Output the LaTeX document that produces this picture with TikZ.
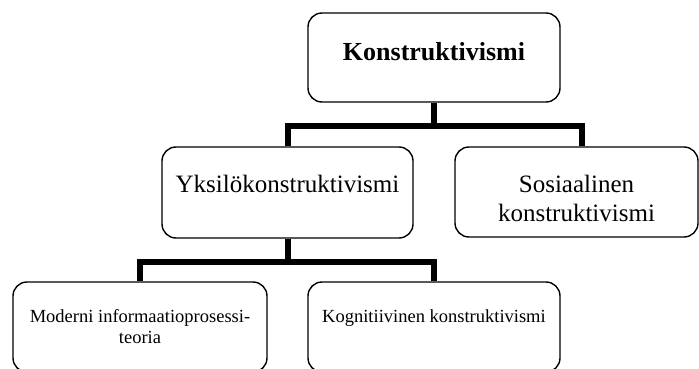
\documentclass[tikz,border=0pt]{standalone}
\usepackage{fontspec}
\setmainfont{Liberation Serif}
% Cell contents: width, height, font, first-baseline depth, text
\newcommand\cellbody[5]{\parbox[c][#2][t]{#1}{\centering #3\rule{0pt}{#4}#5\par}}
\newcommand\bigtxt{\fontsize{25}{29.5}\selectfont}
\newcommand\smalltxt{\fontsize{18.5}{21.5}\selectfont}
\begin{document}
\begin{tikzpicture}[x=1pt,y=-1pt,
  box/.style={draw, line width=1.4pt, rounded corners=14pt, inner sep=0pt},
  conn/.style={line width=6pt},
]
\useasboundingbox (0,0) rectangle (699,369);

% root
\node[box] (top) at (434,57.5)
  {\cellbody{252pt}{89pt}{\fontsize{26}{30}\selectfont\bfseries}{47pt}{Konstruktivismi}};

% second level
\node[box] (mid1) at (287.5,192.5)
  {\cellbody{251pt}{91pt}{\bigtxt}{45pt}{Yksilökonstruktivismi}};
\node[box] (soc) at (576.5,192)
  {\cellbody{243pt}{90pt}{\bigtxt}{45pt}{Sosiaalinen\\konstruktivismi}};

% third level
\node[box] (bot1) at (140,327)
  {\cellbody{254pt}{90pt}{\smalltxt}{40pt}{Moderni informaatioprosessi-\\teoria}};
\node[box] (bot2) at (434,327)
  {\cellbody{252pt}{90pt}{\smalltxt}{40pt}{Kognitiivinen konstruktivismi}};

% connectors
\draw[conn] (top.south) -- ++(0,23) coordinate (hub1);
\draw[conn] (mid1.north) |- (hub1) -| ([xshift=5pt]soc.north);
\draw[conn] (mid1.south) -- ++(0,23) coordinate (hub2);
\draw[conn] (bot1.north) |- (hub2) -| (bot2.north);
\end{tikzpicture}
\end{document}
